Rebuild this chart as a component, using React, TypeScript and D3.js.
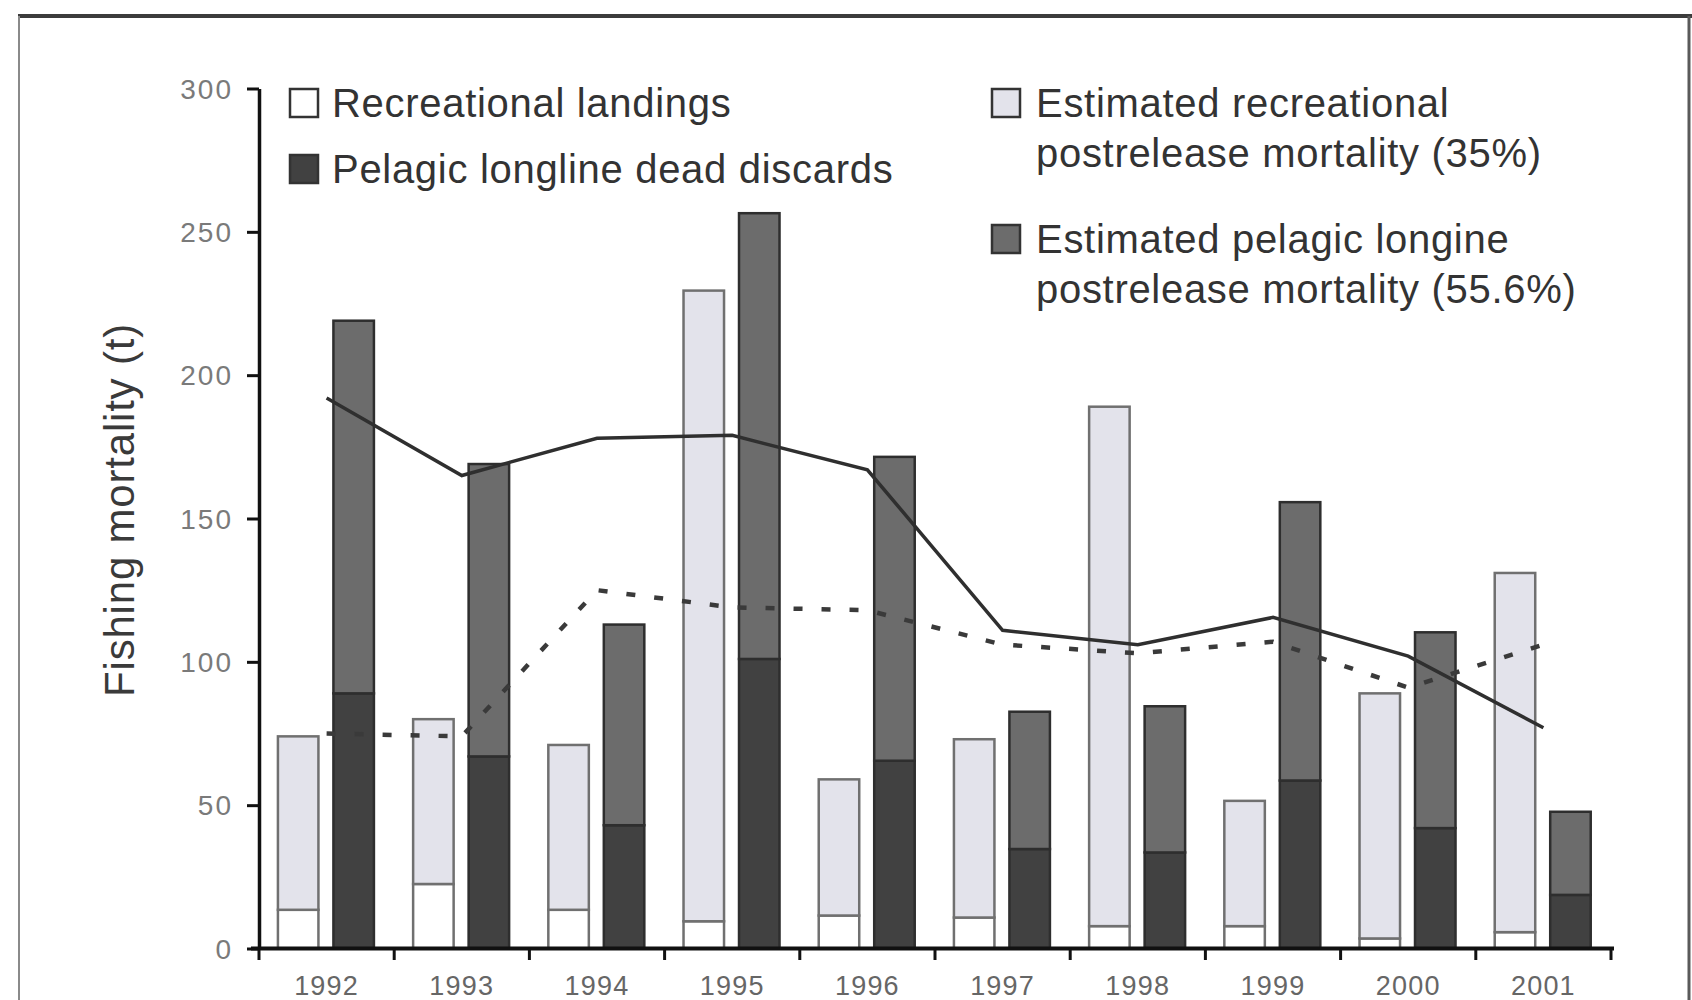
import React, { useEffect, useRef } from 'react'
import * as d3 from 'd3'

// values (t)
const years = ['1992', '1993', '1994', '1995', '1996', '1997', '1998', '1999', '2000', '2001']
const recLandings = [13.5, 22.5, 13.5, 9.5, 11.5, 10.8, 7.8, 7.8, 3.5, 5.7]
const recPostrelease = [60.5, 57.5, 57.5, 220, 47.5, 62.2, 181.2, 43.7, 85.5, 125.3]
const llDeadDiscards = [89, 67, 43, 101, 65.5, 34.7, 33.5, 58.6, 42, 18.7]
const llPostrelease = [130, 102, 70, 155.5, 106, 47.9, 51, 97.1, 68.3, 29]
const solidLine = [192, 165, 178, 179, 167, 111, 106, 115.5, 102, 77]
const dashedLine = [75, 74, 125, 119, 118, 106, 103, 107, 91, 106]
const yTicks = [0, 50, 100, 150, 200, 250, 300]

const legendLeft = ['Recreational landings', 'Pelagic longline dead discards']
const legendRight = [
    ['Estimated recreational', 'postrelease mortality (35%)'],
    ['Estimated pelagic longine', 'postrelease mortality (55.6%)']
]

const COL_WHITE = '#ffffff'
const COL_LIGHT = '#e3e3eb'
const COL_DARK = '#414141'
const COL_MID = '#6c6c6c'

const W = 1692, H = 1000
const FONT = '"Liberation Sans", Arial, sans-serif'

const App = () => {
    const ref = useRef<SVGSVGElement>(null)

    const drawChart = () => {
        const svg = d3.select(ref.current)
        svg.selectAll('*').remove()

        const x = d3.scaleBand().domain(years).range([259, 1611])
        const bw = x.bandwidth()
        const xSub = d3.scaleBand().domain(['rec', 'll'])
            .range([0.14 * bw, 0.85 * bw]).paddingInner(0.27)
        const y = d3.scaleLinear().domain([0, 300]).range([948.5, 88.5])

        // frame
        svg.append('line').attr('x1', 18).attr('x2', W).attr('y1', 16).attr('y2', 16)
            .attr('stroke', '#3c3c3c').attr('stroke-width', 4)
        svg.append('line').attr('x1', 19).attr('x2', 19).attr('y1', 16).attr('y2', H)
            .attr('stroke', '#8a8a8a').attr('stroke-width', 2)
        svg.append('line').attr('x1', 1689).attr('x2', 1689).attr('y1', 16).attr('y2', H)
            .attr('stroke', '#5a5a5a').attr('stroke-width', 3)

        const rows = years.map((yr, i) => ({
            year: yr,
            recLand: recLandings[i],
            recPost: recPostrelease[i],
            llDead: llDeadDiscards[i],
            llPost: llPostrelease[i]
        }))

        const stackRec = d3.stack<any>().keys(['recLand', 'recPost'])(rows)
        const stackLL = d3.stack<any>().keys(['llDead', 'llPost'])(rows)

        const drawStack = (series: any[], sub: string, fills: string[], stroke: string) => {
            series.forEach((s, k) => {
                svg.append('g').selectAll('rect').data(s).join('rect')
                    .attr('x', (d: any) => (x(d.data.year) ?? 0) + (xSub(sub) ?? 0))
                    .attr('width', xSub.bandwidth())
                    .attr('y', (d: any) => y(d[1]))
                    .attr('height', (d: any) => y(d[0]) - y(d[1]))
                    .attr('fill', fills[k])
                    .attr('stroke', stroke)
                    .attr('stroke-width', 2.5)
            })
        }
        drawStack(stackRec, 'rec', [COL_WHITE, COL_LIGHT], '#707070')
        drawStack(stackLL, 'll', [COL_DARK, COL_MID], '#2e2e2e')

        // lines
        const cx = (i: number) => (x(years[i]) ?? 0) + bw / 2
        const line = d3.line<number>().x((d, i) => cx(i)).y(d => y(d))
        svg.append('path').attr('d', line(solidLine))
            .attr('fill', 'none').attr('stroke', '#2f2f2f').attr('stroke-width', 3.5)
        svg.append('path').attr('d', line(dashedLine))
            .attr('fill', 'none').attr('stroke', '#3a3a3a').attr('stroke-width', 4.5)
            .attr('stroke-dasharray', '9 19')

        // y axis
        const yAxis = svg.append('g').attr('transform', 'translate(259,0)')
            .call(d3.axisLeft(y).tickValues(yTicks).tickSize(12).tickSizeOuter(0).tickPadding(6))
        yAxis.select('.domain').attr('stroke', '#111').attr('stroke-width', 3.5)
        yAxis.selectAll('.tick line').attr('stroke', '#111').attr('stroke-width', 3)
        yAxis.selectAll('.tick text')
            .attr('font-family', FONT)
            .attr('font-size', 28).attr('fill', '#7a7a7a')
            .attr('letter-spacing', 2).attr('x', -26).attr('dy', '0.35em')

        // x axis
        svg.append('line').attr('x1', 251).attr('x2', 1614).attr('y1', 948.5).attr('y2', 948.5)
            .attr('stroke', '#111').attr('stroke-width', 4)
        const bounds = years.map(yr => x(yr) ?? 0).concat([x.range()[1]])
        svg.append('g').selectAll('line').data(bounds).join('line')
            .attr('x1', d => d).attr('x2', d => d)
            .attr('y1', 948.5).attr('y2', 960)
            .attr('stroke', '#111').attr('stroke-width', 3)
        svg.append('g').selectAll('text').data(years).join('text')
            .attr('x', d => (x(d) ?? 0) + bw / 2)
            .attr('y', 995)
            .attr('text-anchor', 'middle')
            .attr('font-family', FONT)
            .attr('font-size', 27).attr('fill', '#666')
            .attr('letter-spacing', 1.2)
            .text(d => d)

        // y label
        svg.append('text')
            .attr('transform', 'translate(134,510) rotate(-90)')
            .attr('text-anchor', 'middle')
            .attr('font-family', FONT)
            .attr('font-size', 42).attr('fill', '#3a3a3a')
            .attr('letter-spacing', 0.8)
            .text('Fishing mortality (t)')

        // legend
        const leftFills = [COL_WHITE, COL_DARK]
        legendLeft.forEach((lab, i) => {
            const top = 89 + i * 66
            svg.append('rect').attr('x', 290).attr('y', top).attr('width', 28).attr('height', 28)
                .attr('fill', leftFills[i]).attr('stroke', '#333').attr('stroke-width', 2.5)
            svg.append('text').attr('x', 332).attr('y', top + 28)
                .attr('font-family', FONT).attr('font-size', 40).attr('fill', '#333')
                .attr('letter-spacing', 0.7)
                .text(lab)
        })
        const rightFills = [COL_LIGHT, COL_MID]
        legendRight.forEach((labs, i) => {
            const top = 89 + i * 136
            svg.append('rect').attr('x', 992).attr('y', top).attr('width', 28).attr('height', 28)
                .attr('fill', rightFills[i]).attr('stroke', '#333').attr('stroke-width', 2.5)
            labs.forEach((lab, j) => {
                svg.append('text').attr('x', 1036).attr('y', top + 28 + j * 50)
                    .attr('font-family', FONT).attr('font-size', 40).attr('fill', '#333')
                    .attr('letter-spacing', 0.7)
                    .text(lab)
            })
        })
    }

    useEffect(() => {
        drawChart()
    }, [])

    return (
        <svg ref={ref} width={W} height={H}
            style={{ position: 'absolute', left: 0, top: 0, background: '#fff' }} />
    )
}

export default App
